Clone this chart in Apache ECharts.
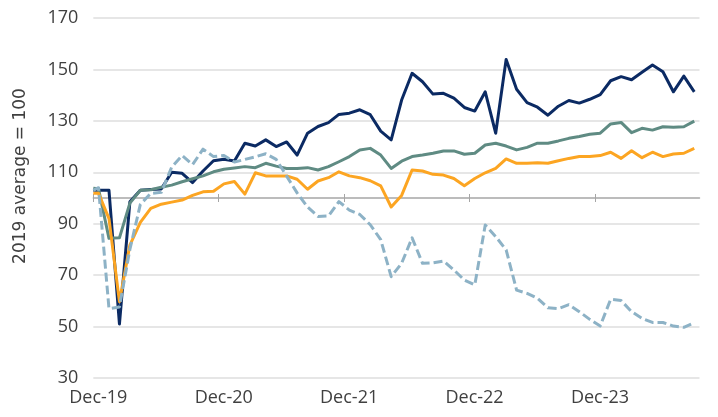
<!DOCTYPE html>
<html><head><meta charset="utf-8">
<script src="https://cdn.jsdelivr.net/npm/echarts@6/dist/echarts.min.js"></script>
<style>html,body{margin:0;padding:0;background:#fff}#c{width:718px;height:417px}</style>
</head><body><div id="c"></div>
<script>
const months = ['Dec-19','Jan-20','Feb-20','Mar-20','Apr-20','May-20','Jun-20','Jul-20','Aug-20','Sep-20','Oct-20','Nov-20',
'Dec-20','Jan-21','Feb-21','Mar-21','Apr-21','May-21','Jun-21','Jul-21','Aug-21','Sep-21','Oct-21','Nov-21',
'Dec-21','Jan-22','Feb-22','Mar-22','Apr-22','May-22','Jun-22','Jul-22','Aug-22','Sep-22','Oct-22','Nov-22',
'Dec-22','Jan-23','Feb-23','Mar-23','Apr-23','May-23','Jun-23','Jul-23','Aug-23','Sep-23','Oct-23','Nov-23',
'Dec-23','Jan-24','Feb-24','Mar-24','Apr-24','May-24','Jun-24','Jul-24','Aug-24','Sep-24'];
const yTicks = [30, 50, 70, 90, 110, 130, 150, 170];

const navyStart = 103;
const navy = [103, 103, 51, 98.5, 103, 103.3, 103.5, 110, 109.6, 106, 110.5, 114.5,
  115.1, 114.4, 121.3, 120.2, 122.6, 120, 121.8, 116.7, 125.2, 127.8, 129.3, 132.5,
  133, 134.3, 132.4, 126, 122.6, 138.1, 148.5, 145.2, 140.4, 140.7, 138.8, 135.2,
  133.8, 141.3, 125.2, 153.9, 142.3, 137.1, 135.3, 132.2, 135.7, 137.9, 136.9, 138.4,
  140.2, 145.6, 147.2, 146, 148.9, 151.7, 149.1, 141.3, 147.4, 141.3];

const tealStart = 103.8;
const teal = [103.6, 84.3, 84.5, 98, 103, 103.2, 104.2, 105, 106.3, 107.5, 108.6, 110.2,
  111.2, 111.7, 112.2, 111.8, 113.5, 112.4, 111.5, 111.5, 111.8, 110.9, 112.2, 114.1,
  116.1, 118.7, 119.3, 116.7, 111.5, 114.3, 116.1, 116.7, 117.4, 118.3, 118.3, 117,
  117.4, 120.6, 121.3, 120.2, 118.7, 119.7, 121.3, 121.3, 122.2, 123.2, 123.9, 124.8,
  125.2, 128.8, 129.4, 125.4, 127.1, 126.4, 127.7, 127.5, 127.7, 129.9];

const orangeStart = 101.8;
const orange = [101.8, 92, 59.7, 81.7, 90.5, 96, 97.6, 98.4, 99.2, 101, 102.4, 102.6,
  105.5, 106.4, 101.5, 109.8, 108.6, 108.6, 108.6, 107.3, 103.4, 106.6, 107.9, 110.2,
  108.6, 107.9, 106.7, 104.7, 96.5, 101, 110.9, 110.5, 109.2, 108.9, 107.6, 104.8,
  107.6, 109.8, 111.5, 115.2, 113.5, 113.5, 113.7, 113.5, 114.5, 115.4, 116.1, 116.1,
  116.5, 117.8, 115.4, 118.4, 115.7, 117.8, 116.1, 117.1, 117.4, 119.3];

const dashedStart = 103;
const dashed = [104, 57, 57.6, 80, 97.5, 101.8, 102.2, 112, 116.5, 113, 119, 116.1,
  116.5, 114, 115, 116, 117.2, 115, 108.5, 102, 96.5, 92.8, 93, 98.6,
  95.3, 93.6, 89.6, 83.8, 69.4, 74.6, 84.5, 74.6, 74.8, 75.5, 72, 68.1,
  66.2, 89.5, 85, 79.8, 64.2, 62.9, 61, 57.3, 57, 58.5, 55.8, 52.8,
  50.2, 60.6, 60.1, 55.8, 53.2, 51.6, 51.6, 50.2, 49.7, 51.5];

const toPts = (start, arr) => [[0, start]].concat(arr.map((v, i) => [i + 0.5, v]));
const labelTicks = months.map((m, i) => i).filter(i => months[i].indexOf('Dec') === 0);
const xMax = months.length;
const yMin = yTicks[0], yMax = yTicks[yTicks.length - 1];
const baseVal = 100;

const gridTop = 18, gridBottom = 39, chartH = 417;
const plotH = chartH - gridTop - gridBottom;
const baseOffset = -plotH * (baseVal - yMin) / (yMax - yMin);

const txt = '#404040';
const chart = echarts.init(document.getElementById('c'));
const mkLine = (name, data, color, type, z) => ({
  name, type: 'line', data, symbol: 'none', z,
  xAxisIndex: 0, yAxisIndex: 0,
  lineStyle: { color, width: 3, type, join: 'round' },
  emphasis: { disabled: true }
});
chart.setOption({
  animation: false,
  backgroundColor: '#ffffff',
  grid: { left: 93.3, right: 18.5, top: gridTop, bottom: gridBottom, containLabel: false, outerBoundsMode: 'none' },
  xAxis: [
    { type: 'value', min: 0, max: xMax, position: 'bottom',
      axisLine: { show: false }, axisTick: { show: false }, splitLine: { show: false },
      axisLabel: { customValues: labelTicks, formatter: v => months[v] || '', color: txt,
        fontSize: 18, fontFamily: 'Open Sans', margin: 11, padding: [0, 0, 0, 10] } },
    { type: 'value', min: 0, max: xMax, position: 'bottom', offset: baseOffset,
      axisLine: { show: true, lineStyle: { color: '#a6a6a6', width: 1.5 } },
      axisTick: { show: true, customValues: labelTicks, length: 4, lineStyle: { color: '#a6a6a6', width: 1 } },
      axisLabel: { show: false }, splitLine: { show: false } },
    { type: 'value', min: 0, max: xMax, position: 'bottom', offset: baseOffset,
      axisLine: { show: false },
      axisTick: { show: true, inside: true, customValues: labelTicks, length: 4, lineStyle: { color: '#a6a6a6', width: 1 } },
      axisLabel: { show: false }, splitLine: { show: false } }
  ],
  yAxis: {
    type: 'value', min: yMin, max: yMax, interval: 20,
    axisLine: { show: false }, axisTick: { show: false },
    splitLine: { lineStyle: { color: '#dedede', width: 1.5 } },
    axisLabel: { color: txt, fontSize: 18, fontFamily: 'Open Sans', margin: 15 },
    name: '2019 average = 100', nameLocation: 'middle', nameGap: 64, nameRotate: 90,
    nameTextStyle: { color: txt, fontSize: 17, fontFamily: 'DejaVu Sans', padding: [0, 0, 0, 44] }
  },
  series: [
    mkLine('Series 1', toPts(navyStart, navy), '#0b2a63', 'solid', 3),
    mkLine('Series 2', toPts(tealStart, teal), '#5f8b83', 'solid', 4),
    mkLine('Series 3', toPts(orangeStart, orange), '#fca522', 'solid', 5),
    mkLine('Series 4', toPts(dashedStart, dashed), '#8db2c6', [9, 4], 6)
  ]
});
</script></body></html>
